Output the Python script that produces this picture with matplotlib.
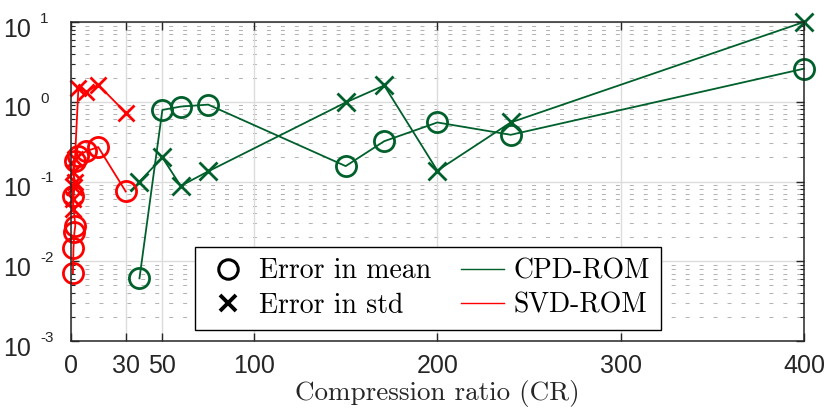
import matplotlib
matplotlib.use('Agg')
import matplotlib.pyplot as plt
import matplotlib.transforms as mtransforms
from matplotlib.lines import Line2D
from matplotlib.ticker import FixedLocator, NullFormatter, NullLocator

# ---- data ----
cpd_cr = [37.5, 50, 60, 75, 150, 171, 200, 240, 400]
cpd_mean = [0.0061, 0.79, 0.87, 0.92, 0.156, 0.32, 0.55, 0.385, 2.6]
cpd_std = [0.1, 0.2, 0.088, 0.134, 0.98, 1.6, 0.137, 0.55, 10.0]

svd_cr = [1.2, 1.5, 2.0, 2.5, 1.0, 2.3, 4.2, 8.5, 15, 30]
svd_mean = [0.0071, 0.0145, 0.023, 0.028, 0.065, 0.18, 0.21, 0.24, 0.27, 0.075]
svd_std = [0.045, 0.06, 0.085, 0.1, 0.13, 0.19, 1.5, 1.33, 1.63, 0.73]

x_ticks = [0, 30, 50, 100, 200, 300, 400]
y_decades = [-3, -2, -1, 0, 1]

GREEN = '#00602b'
RED = '#ff0000'
INK = '#262626'

plt.rcParams['font.family'] = ['Liberation Sans', 'DejaVu Sans']

fig = plt.figure(figsize=(8.3, 4.15), dpi=100)
ax = fig.add_axes([0.0852, 0.1783, 0.8835, 0.7687])

# ---- grid ----
ax.set_yscale('log')
ax.set_xlim(0, 400)
ax.set_ylim(1e-3, 1e1)
minor_y = [m * 10.0 ** d for d in y_decades[:-1] for m in range(2, 10)]
for yv in minor_y:
    ax.axhline(yv, color='#b4b4b4', lw=0.75, ls=(0, (3.8, 9.6)), zorder=0)
for yv in [10.0 ** d for d in y_decades]:
    ax.axhline(yv, color='#dcdcdc', lw=1.0, zorder=0)
for xv in x_ticks:
    ax.axvline(xv, color='#dcdcdc', lw=1.0, zorder=0)

# ---- series ----
mk = dict(clip_on=False, mew=2.0)
ax.plot(cpd_cr, cpd_mean, color=GREEN, lw=1.3, marker='o', ms=14.5,
        mfc='none', **mk)
ax.plot(cpd_cr, cpd_std, color=GREEN, lw=1.3, marker='x', ms=13, **mk)
ax.plot(svd_cr, svd_mean, color=RED, lw=1.3, marker='o', ms=14.5,
        mfc='none', **mk)
ax.plot(svd_cr, svd_std, color=RED, lw=1.3, marker='x', ms=12, **mk)

# ---- axes ----
ax.xaxis.set_major_locator(FixedLocator(x_ticks))
ax.xaxis.set_minor_locator(NullLocator())
ax.yaxis.set_major_locator(FixedLocator([10.0 ** d for d in y_decades]))
ax.yaxis.set_minor_locator(FixedLocator(minor_y))
ax.yaxis.set_major_formatter(NullFormatter())
ax.tick_params(which='both', direction='in', top=True, right=True,
               colors=INK)
ax.tick_params(axis='x', labelsize=18, pad=9)
ax.tick_params(which='major', length=5.5, width=1.0)
ax.tick_params(which='minor', length=3.0, width=0.8)
for s in ax.spines.values():
    s.set_color(INK)
    s.set_linewidth(1.1)

# y tick labels in the "10 -2" style: base and raised exponent
ytr = ax.get_yaxis_transform()
base_tr = ytr + mtransforms.ScaledTranslation(0, -10.6 / 72, fig.dpi_scale_trans)
exp_tr = ytr + mtransforms.ScaledTranslation(0, -0.7 / 72, fig.dpi_scale_trans)
for d in y_decades:
    ax.text(-0.0545, 10.0 ** d, '10', transform=base_tr, ha='right',
            va='baseline', fontsize=18, color=INK, clip_on=False)
    ax.text(-0.0419, 10.0 ** d, str(d), transform=exp_tr, ha='left',
            va='baseline', fontsize=11, color=INK, clip_on=False)

ax.set_xlabel('Compression ratio (CR)', fontfamily='cmr10', fontsize=19.5,
              color=INK, labelpad=2)

# ---- legend ----
handles = [
    Line2D([], [], color='black', ls='none', marker='o', ms=14, mfc='none', mew=2.2),
    Line2D([], [], color='black', ls='none', marker='x', ms=11, mew=2.8),
    Line2D([], [], color=GREEN, lw=1.0),
    Line2D([], [], color=RED, lw=1.0),
]
labels = ['Error in mean', 'Error in std', 'CPD-ROM', 'SVD-ROM']
leg = ax.legend(handles, labels, ncol=2, loc='lower left',
                bbox_to_anchor=(0.1695, 0.0345), borderaxespad=0,
                prop={'family': 'cmr10', 'size': 20}, frameon=True,
                fancybox=False, edgecolor='black', framealpha=1,
                handlelength=1.55, handletextpad=0.36, columnspacing=1.05,
                labelspacing=0.3, borderpad=0.4)
leg.get_frame().set_linewidth(1.0)
leg.set_zorder(5)

fig.savefig('out.png', dpi=100)
